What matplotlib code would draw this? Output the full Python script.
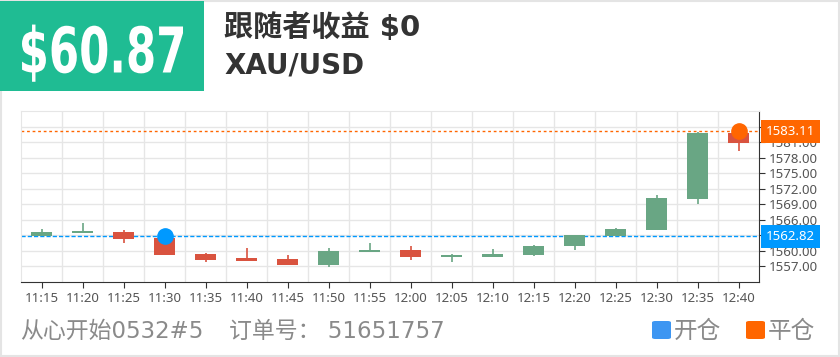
import matplotlib
matplotlib.use("Agg")
import matplotlib.pyplot as plt
from matplotlib.patches import Rectangle, FancyBboxPatch, PathPatch
from matplotlib.textpath import TextPath
from matplotlib.font_manager import FontProperties
from matplotlib.transforms import blended_transform_factory, Affine2D

# chart values
times = ["11:15", "11:20", "11:25", "11:30", "11:35", "11:40", "11:45", "11:50", "11:55",
         "12:00", "12:05", "12:10", "12:15", "12:20", "12:25", "12:30", "12:35", "12:40"]
opens = [1562.92, 1563.40, 1563.69, 1562.53, 1559.38, 1558.60, 1558.35, 1557.31, 1559.77,
         1560.15, 1558.86, 1558.86, 1559.13, 1560.87, 1562.86, 1564.08, 1570.02, 1582.84]
closes = [1563.63, 1563.80, 1562.28, 1559.24, 1558.28, 1558.03, 1557.25, 1559.96, 1560.15,
          1558.86, 1559.19, 1559.44, 1560.98, 1563.05, 1564.27, 1570.21, 1582.84, 1580.91]
highs = [1564.27, 1565.43, 1564.02, 1562.80, 1559.63, 1560.60, 1559.19, 1560.54, 1561.50,
         1560.93, 1559.38, 1560.40, 1561.10, 1563.10, 1564.50, 1570.79, 1582.97, 1583.11]
lows = [1562.90, 1563.40, 1561.56, 1559.20, 1557.83, 1558.00, 1557.20, 1556.80, 1559.77,
        1558.22, 1557.83, 1558.86, 1559.00, 1560.15, 1562.80, 1564.08, 1568.99, 1579.36]
yticks = [1557, 1560, 1563, 1566, 1569, 1572, 1575, 1578, 1581, 1584]

open_idx, open_price = 3, 1562.82
close_idx, close_price = 17, 1583.11

profit = "$60.87"
follower = "跟随者收益 $0"
symbol = "XAU/USD"
account = "从心开始0532#5"
order = "订单号： 51651757"
legend_items = ["开仓", "平仓"]

UP = "#69a684"
DOWN = "#d9533f"
BLUE = "#0099ff"
ORANGE = "#ff6600"
MIX = ["DejaVu Sans", "Noto Sans CJK SC"]

W, H = 840, 357
fig = plt.figure(figsize=(W / 100, H / 100), dpi=100)

def fx(px):
    return px / W

def fy(py):
    return 1 - py / H

# frame and header box
fig.patches.append(Rectangle((fx(0.75), fy(356.25)), fx(838.5), 355.5 / H, transform=fig.transFigure,
                             fill=False, ec="#e4e4e4", lw=1.5, zorder=0))
fig.patches.append(Rectangle((0, fy(90.7)), fx(204), 89.7 / H, transform=fig.transFigure,
                             fc="#1fbc93", ec="none", zorder=1))

# big condensed number: squeeze a bold text path into the box (pixels)
tp = TextPath((0, 0), profit, size=1, prop=FontProperties(family="DejaVu Sans", weight="bold"))
ext = tp.get_extents()
sy = 46 / 0.729
sx = 161 / ext.width
trans = Affine2D().translate(-ext.x0, 0).scale(sx, sy).translate(22, H - 72.5)
fig.patches.append(PathPatch(tp, transform=trans, fc="white", ec="none", zorder=2))

fig.text(fx(224), fy(28), follower, color="#333333", fontsize=21, fontweight="bold",
         family=MIX, ha="left", va="center")
fig.text(fx(224), fy(66), symbol, color="#333333", fontsize=20, fontweight="bold",
         family=MIX, ha="left", va="center")

# footer
fig.text(fx(20), fy(331), account, color="#8a8a8a", fontsize=16.5, family=MIX, ha="left", va="center")
fig.text(fx(229), fy(331), order, color="#8a8a8a", fontsize=16.5, family=MIX, ha="left", va="center")
for lx, col, lab in [(651, "#3d96f2", legend_items[0]), (745, ORANGE, legend_items[1])]:
    fig.patches.append(FancyBboxPatch((fx(lx + 1), fy(339)), fx(19), 18 / H,
                                      boxstyle="round,pad=0,rounding_size=0.004",
                                      transform=fig.transFigure, fc=col, ec="none"))
    fig.text(fx(lx + 23), fy(331), lab, color="#8a8a8a", fontsize=17, family=MIX,
             ha="left", va="center")

# candle chart
ax = fig.add_axes([fx(21), 75 / H, fx(738), 171 / H])
x = list(range(len(times)))
body_lo = [min(o, c) for o, c in zip(opens, closes)]
body_h = [max(abs(c - o), 0.25) for o, c in zip(opens, closes)]
cols = [UP if c >= o else DOWN for o, c in zip(opens, closes)]
ax.vlines(x, lows, highs, colors=cols, lw=1.2, zorder=3)
ax.bar(x, body_h, bottom=body_lo, width=0.5, color=cols, zorder=4)

ax.axhline(close_price, color=ORANGE, lw=1, ls=(0, (2, 2)), zorder=2)
ax.axhline(open_price, color=BLUE, lw=1, ls=(0, (3, 1.5)), zorder=2)
ax.plot([open_idx], [open_price], "o", ms=11, color=BLUE, zorder=6)
ax.plot([close_idx], [close_price], "o", ms=11, color=ORANGE, zorder=6)

ax.set_xlim(-0.5, len(times) - 0.5)
ax.set_ylim(1554, 1587)
ax.set_xticks(x)
ax.set_xticklabels(times)
ax.set_xticks([i + 0.5 for i in x[:-1]], minor=True)
ax.set_yticks(yticks)
# labels under the price tags are hidden in the original
ax.set_yticklabels(["" if v in (1563, 1584) else "%.2f" % v for v in yticks])
ax.yaxis.tick_right()
ax.grid(True, which="major", axis="y", color="#e6e6e6", lw=1, zorder=0)
ax.grid(True, which="minor", axis="x", color="#e6e6e6", lw=1, zorder=0)
ax.tick_params(axis="x", which="minor", length=0)
ax.tick_params(axis="both", which="major", length=4, color="#333333", labelcolor="#555555",
               labelsize=9.5, pad=3)
for lab in ax.get_xticklabels() + ax.get_yticklabels():
    lab.set_family("Noto Sans")
ax.spines["top"].set_color("#e6e6e6")
ax.spines["left"].set_color("#e6e6e6")
ax.spines["bottom"].set_color("#333333")
ax.spines["right"].set_color("#333333")
ax.set_axisbelow(True)

# price tags on the right axis
tr = blended_transform_factory(ax.transAxes, ax.transData)
for price, col in [(close_price, ORANGE), (open_price, BLUE)]:
    ax.text(1.0095, price, "%.2f" % price, transform=tr, color="white", fontsize=9.5,
            family="Noto Sans", ha="left", va="center", zorder=10, clip_on=False,
            bbox=dict(boxstyle="square,pad=0.38", fc=col, ec="none"))

fig.savefig("out.png", dpi=100)
